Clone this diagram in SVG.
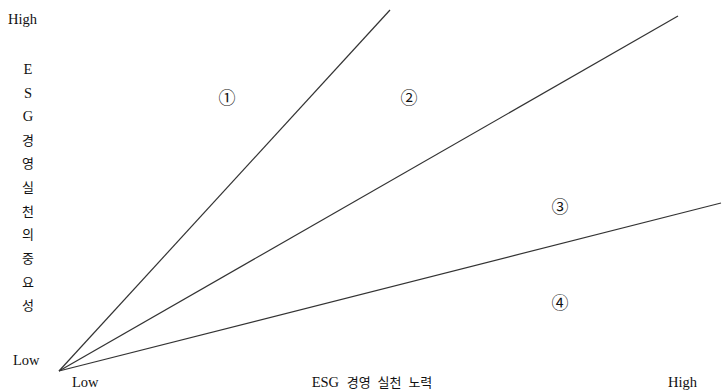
<svg xmlns="http://www.w3.org/2000/svg" width="723" height="391" viewBox="0 0 723 391">
<style>
text{font-family:"Liberation Serif","Noto Sans CJK KR",serif;font-size:14.5px;fill:#111}
.v{text-anchor:middle}
.k{font-family:"Noto Sans CJK KR","Liberation Serif",serif;font-size:13px}
.c{text-anchor:middle;font-size:17px}
line{stroke:#333;stroke-width:1.2}
</style>
<rect width="723" height="391" fill="#fff"/>
<g id="connectors">
<line x1="59" y1="371" x2="390" y2="10"/>
<line x1="59" y1="371" x2="678" y2="16"/>
<line x1="59" y1="371" x2="721" y2="203"/>
</g>
<g id="y-axis">
<text x="8" y="24">High</text>
<text x="13" y="365">Low</text>
<text class="v" x="28" y="74">E</text>
<text class="v" x="28" y="98">S</text>
<text class="v" x="28" y="121">G</text>
<text class="v k" x="28" y="145">경</text>
<text class="v k" x="28" y="168">영</text>
<text class="v k" x="28" y="192">실</text>
<text class="v k" x="28" y="216">천</text>
<text class="v k" x="28" y="239">의</text>
<text class="v k" x="28" y="263">중</text>
<text class="v k" x="28" y="287">요</text>
<text class="v k" x="28" y="310">성</text>
</g>
<g id="x-axis">
<text x="72" y="387">Low</text>
<text class="v" x="372" y="387" style="word-spacing:4px">ESG <tspan class="k">경영 실천 노력</tspan></text>
<text x="668" y="387">High</text>
</g>
<g id="region1"><text class="c" x="227" y="104">①</text></g>
<g id="region2"><text class="c" x="409" y="104">②</text></g>
<g id="region3"><text class="c" x="560" y="213">③</text></g>
<g id="region4"><text class="c" x="560" y="309">④</text></g>
</svg>
